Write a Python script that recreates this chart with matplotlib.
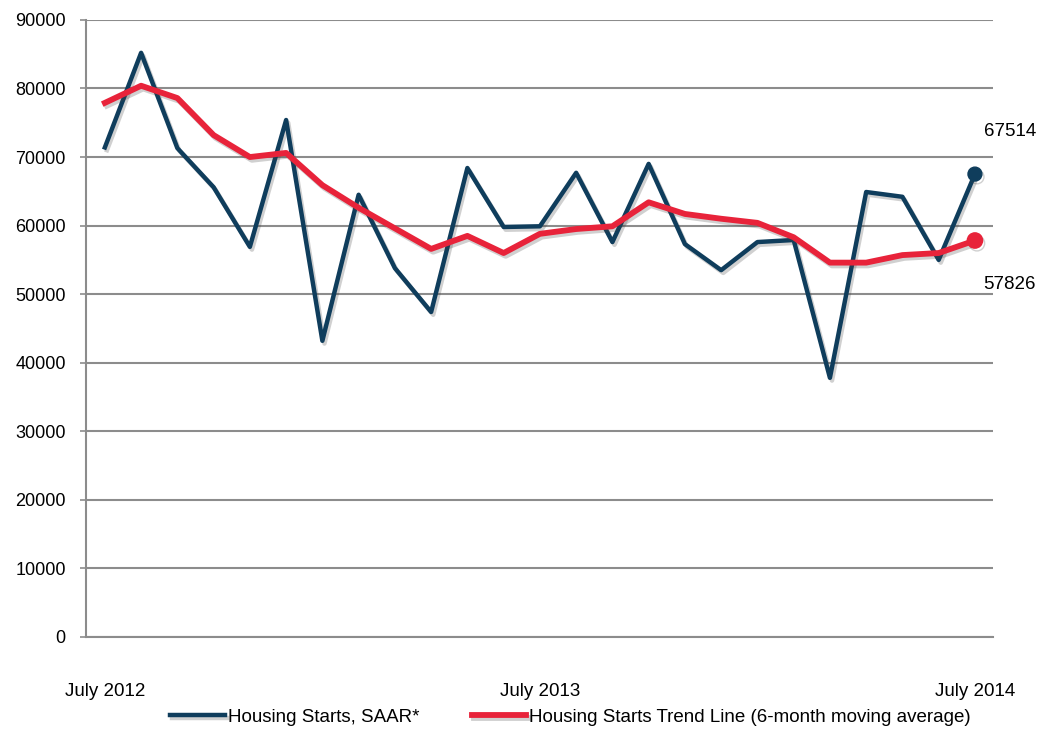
import numpy as np
import matplotlib
matplotlib.use("Agg")
import matplotlib.pyplot as plt
import matplotlib.patheffects as pe

plt.rcParams['font.family'] = ['Liberation Sans Narrow', 'Liberation Sans', 'DejaVu Sans']

# monthly points, July 2012 .. July 2014
months = list(range(25))
tick_pos = [0, 12, 24]
tick_labels = ["July 2012", "July 2013", "July 2014"]

starts = [71400, 85200, 71300, 65600, 56900, 75400, 43200, 64500, 53800, 47400,
          68400, 59800, 59900, 67700, 57600, 69000, 57300, 53500, 57600, 57900,
          37800, 64900, 64200, 55000, 67514]
trend = [77900, 80400, 78600, 73200, 70000, 70600, 65900, 62600, 59600, 56600,
         58500, 56000, 58800, 59500, 59900, 63400, 61700, 61000, 60400, 58300,
         54600, 54600, 55700, 56000, 57826]

BLUE = "#0f3d5c"
RED = "#e8233a"

fig = plt.figure(figsize=(10.45, 7.32), dpi=100)
ax = fig.add_axes([0.0823, 0.1298, 0.868, 0.843])

shadow = [pe.SimpleLineShadow(offset=(1.5, -2), alpha=0.25, shadow_color="#444444"), pe.Normal()]

ax.plot(months, starts, color=BLUE, lw=3.2, label="Housing Starts, SAAR*",
        path_effects=shadow, zorder=3)
ax.plot(months, trend, color=RED, lw=4.2, label="Housing Starts Trend Line (6-month moving average)",
        path_effects=shadow, zorder=4)
ax.plot(months[-1], starts[-1], "o", color=BLUE, ms=10, path_effects=shadow, zorder=5)
ax.plot(months[-1], trend[-1], "o", color=RED, ms=11, path_effects=shadow, zorder=5)

ax.annotate(str(starts[-1]), (months[-1], starts[-1]), xytext=(25, 31),
            textcoords="offset points", ha="center", va="center", fontsize=13.5)
ax.annotate(str(trend[-1]), (months[-1], trend[-1]), xytext=(25, -32),
            textcoords="offset points", ha="center", va="center", fontsize=13.5)

ax.set_ylim(0, 90000)
ax.set_xlim(-0.52, 24.5)
ax.set_yticks(np.arange(0, 90001, 10000))
ax.set_xticks(tick_pos)
ax.set_xticklabels(tick_labels)
ax.tick_params(axis="y", labelsize=13, length=4.5, color="#8c8c8c", width=1.2, pad=10)
ax.tick_params(axis="x", labelsize=13.5, length=0, pad=33)

ax.grid(axis="y", color="#8c8c8c", lw=1.5)
ax.set_axisbelow(True)
for s in ["top", "right"]:
    ax.spines[s].set_visible(False)
ax.spines["left"].set_color("#8c8c8c")
ax.spines["left"].set_linewidth(1.5)
ax.spines["bottom"].set_color("#8c8c8c")
ax.spines["bottom"].set_linewidth(1.5)

fig.legend(loc="center", bbox_to_anchor=(0.546, 0.0205), ncol=2, frameon=False,
           fontsize=13.5, handlelength=2.9, handletextpad=0.16, columnspacing=2.8,
           borderaxespad=0, borderpad=0)

fig.savefig("out.png", dpi=100)
